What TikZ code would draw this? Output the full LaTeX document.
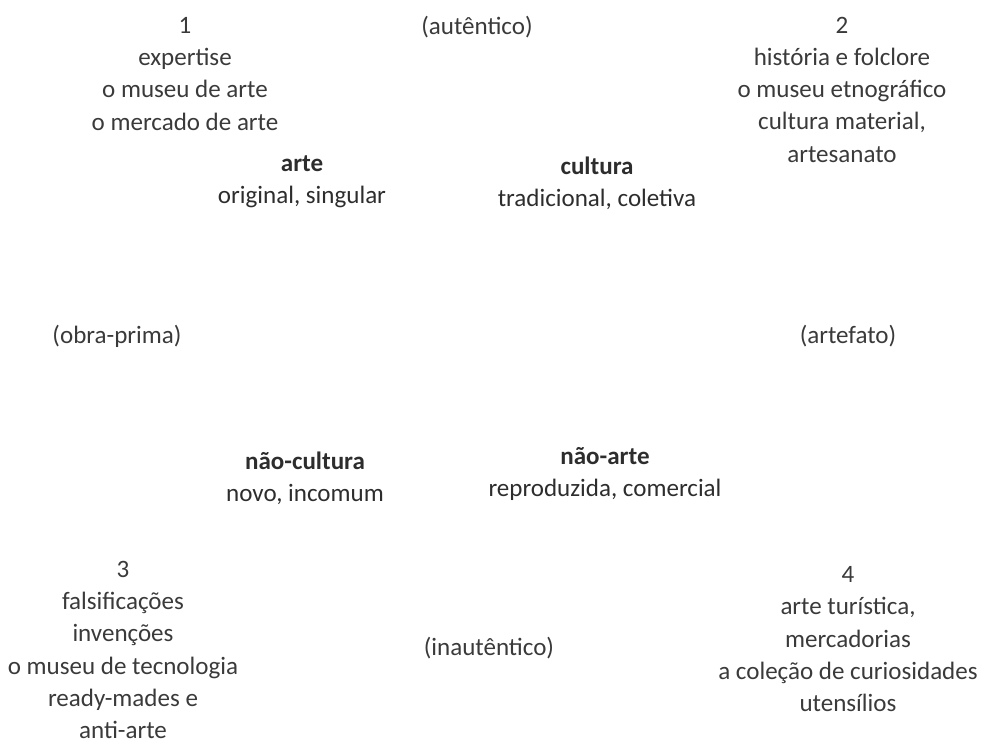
\documentclass[tikz,border=0pt]{standalone}
\usepackage{fontspec}
\setmainfont{Carlito}
\usepackage{xcolor}
\usetikzlibrary{positioning}
\definecolor{TextoCinza}{RGB}{58,58,58}
\definecolor{TermoCinza}{RGB}{45,45,45}

\tikzset{
    bloco/.style={align=center, inner sep=0pt, anchor=base, text=TextoCinza,
                  font=\fontsize{17.8}{22.76}\selectfont},
    termo/.style={bloco, text=TermoCinza}
}

\begin{document}
\begin{tikzpicture}[x=0.025cm, y=-0.025cm]
    \useasboundingbox (0,0) rectangle (985,744);

    % os quatro quadrantes (base = última linha)
    \node[bloco] (q1) at (185,130) {1\\ expertise\\ o museu de arte\\ o mercado de arte};
    \node[bloco] (q2) at (842,162) {2\\ história e folclore\\ o museu etnográfico\\ cultura material,\\ artesanato};
    \node[bloco] (q3) at (123,738) {3\\ falsificações\\ invenções\\ o museu de tecnologia\\ ready-mades e\\ anti-arte};
    \node[bloco] (q4) at (848,711) {4\\ arte turística,\\ mercadorias\\ a coleção de curiosidades\\ utensílios};

    % eixos
    \node[bloco] (autentico) at (477,34) {(autêntico)};
    \node[bloco] (inautentico) at (489,655) {(inautêntico)};
    \node[bloco] (obraprima) at (117,343) {(obra-prima)};
    \node[bloco] (artefato) at (848,343) {(artefato)};

    % termos do quadrado
    \node[termo] (arte) at (302,203) {\textbf{arte}\\ original, singular};
    \node[termo] (cultura) at (597,206) {\textbf{cultura}\\ tradicional, coletiva};
    \node[termo] (naocultura) at (305,501) {\textbf{não-cultura}\\ novo, incomum};
    \node[termo] (naoarte) at (605,496) {\textbf{não-arte}\\ reproduzida, comercial};
\end{tikzpicture}
\end{document}
